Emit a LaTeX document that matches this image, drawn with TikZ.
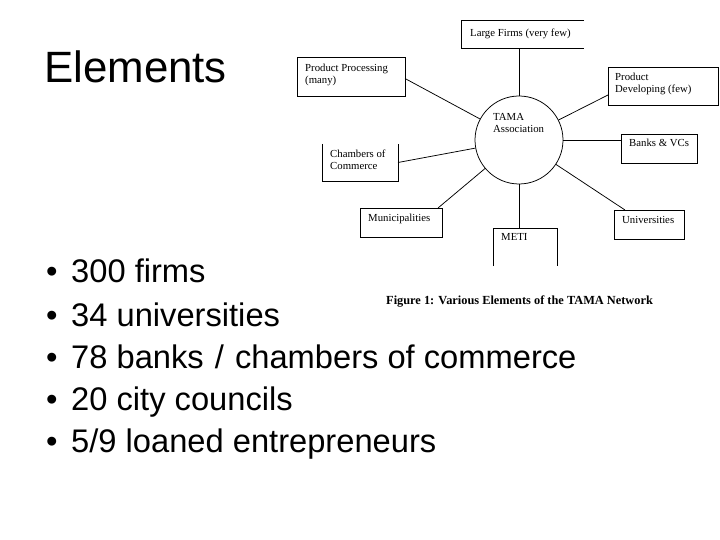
\documentclass[tikz,border=0pt]{standalone}
\usepackage{fontspec}
\setmainfont{Liberation Serif}
\newfontfamily\arialfont{Liberation Sans}
\begin{document}
\begin{tikzpicture}[x=1bp,y=-1bp,
  ln/.style={line width=0.75bp, black},
  box/.style={ln, draw, inner sep=0pt, outer sep=0pt, anchor=north west},
  openbox/.style={inner sep=0pt, outer sep=0pt, anchor=north west},
  dtext/.style={font=\fontsize{10.8}{12.5}\selectfont, anchor=base west, inner sep=0pt, align=left},
  bullettext/.style={font=\arialfont\fontsize{32.8}{40}\selectfont, anchor=base west, inner sep=0pt},
  bulletmark/.style={font=\arialfont\fontsize{32.8}{40}\selectfont, anchor=base west, inner sep=0pt}]
\useasboundingbox (0,0) rectangle (720,540);
\fill[white] (0,0) rectangle (720,540);

% title
\node[font=\arialfont\fontsize{44}{50}\selectfont, anchor=base west, inner sep=0pt] (title) at (44,83) {Elements};

% bullets
\node[bulletmark] (b1) at (46,283) {\textbullet};
\node[bullettext] (t1) at (71,283) {300 firms};
\node[bulletmark] (b2) at (46,326) {\textbullet};
\node[bullettext] (t2) at (71,326) {34 universities};
\node[bulletmark] (b3) at (46,368) {\textbullet};
\node[bullettext] (t3) at (71,368) {78 banks\hspace{2bp} / \hspace{2bp}chambers of commerce};
\node[bulletmark] (b4) at (46,410) {\textbullet};
\node[bullettext] (t4) at (71,410) {20 city councils};
\node[bulletmark] (b5) at (46,452) {\textbullet};
\node[bullettext] (t5) at (71,452) {5/9 loaned entrepreneurs};

% central circle
\node[ln, draw, circle, minimum size=88bp, inner sep=0pt] (tama) at (519,140) {};
\node[dtext] (tamat) at (493,133) {TAMA\\Association};

% boxes
\node[openbox, minimum width=123bp, minimum height=28bp] (lf) at (461,20) {};
\draw[ln] (lf.north east) -- (lf.north west) -- (lf.south west) -- (lf.south east);
\node[dtext] (lft) at (470,37) {Large Firms (very few)};

\node[box, minimum width=108bp, minimum height=39bp] (pp) at (297,57) {};
\node[dtext] (ppt) at (305,84) {Product Processing\\(many)};

\node[box, minimum width=110bp, minimum height=38bp] (pd) at (608,67) {};
\node[dtext] (pdt) at (615,93) {Product\\Developing (few)};

\node[box, minimum width=76bp, minimum height=29bp] (bk) at (621,134) {};
\node[dtext] (bkt) at (629,147) {Banks \& VCs};

\node[openbox, minimum width=76bp, minimum height=37bp] (cc) at (322,144) {};
\draw[ln] (cc.north west) -- (cc.south west) -- (cc.south east) -- (cc.north east);
\node[dtext] (cct) at (330,170) {Chambers of\\Commerce};

\node[box, minimum width=82bp, minimum height=29bp] (mu) at (360,208) {};
\node[dtext] (mut) at (368,222) {Municipalities};

\node[openbox, minimum width=64bp, minimum height=38bp] (me) at (493,228) {};
\draw[ln] (me.south west) -- (me.north west) -- (me.north east) -- (me.south east);
\node[dtext] (met) at (501,241) {METI};

\node[box, minimum width=70bp, minimum height=29bp] (un) at (614,210) {};
\node[dtext] (unt) at (622,224) {Universities};

% connectors
\draw[ln] (tama.north) -- (tama.north |- lf.south);
\coordinate (ppc) at ([yshift=-2bp]pp.east);
\draw[ln] (ppc) -- (tama);
\draw[ln] ([yshift=-9bp]pd.west) -- (tama);
\draw[ln] (tama.east) -- (tama.east -| bk.west);
\draw[ln] (cc.east) -- (tama);
\draw[ln] ([xshift=-4bp]mu.north east) -- (tama);
\draw[ln] (tama.south) -- (tama.south |- me.north);
\draw[ln] ([xshift=11bp]un.north west) -- (tama);

% caption
\node[font=\bfseries\fontsize{12.4}{14}\selectfont, anchor=base west, inner sep=0pt] (cap) at (386,304) {Figure 1: Various Elements of the TAMA Network};
\end{tikzpicture}
\end{document}
